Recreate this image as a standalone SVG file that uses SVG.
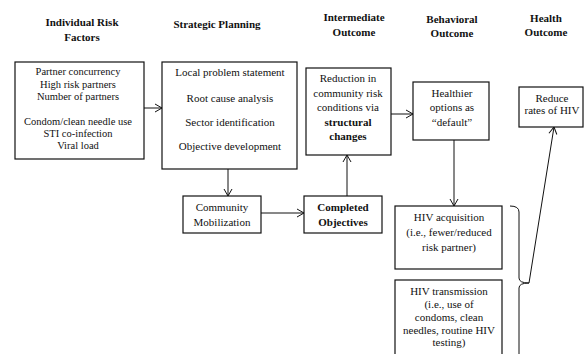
<svg xmlns="http://www.w3.org/2000/svg" width="585" height="354" viewBox="0 0 585 354">
<style>
text{font-family:"Liberation Serif","Times New Roman",serif;font-size:11px;fill:#111;text-anchor:middle}
.t{font-weight:bold}
.s{font-size:10.5px}
.b{font-weight:bold}
.box{fill:#fff;stroke:#111;stroke-width:1.2}
.c{fill:none;stroke:#111;stroke-width:1}
</style>
<defs>
<marker id="ah" markerWidth="10" markerHeight="10" refX="8" refY="5" orient="auto" markerUnits="userSpaceOnUse">
<path d="M1,1 L8,5 L1,9" fill="none" stroke="#111" stroke-width="1"/>
</marker>
</defs>
<g id="titles">
<text class="t" x="82" y="26">Individual Risk</text>
<text class="t" x="82" y="41">Factors</text>
<text class="t" x="217" y="28">Strategic Planning</text>
<text class="t" x="354" y="21">Intermediate</text>
<text class="t" x="354" y="36">Outcome</text>
<text class="t" x="452" y="23">Behavioral</text>
<text class="t" x="452" y="37">Outcome</text>
<text class="t" x="546" y="22">Health</text>
<text class="t" x="546" y="36">Outcome</text>
</g>
<g id="connectors">
<line class="c" x1="144" y1="108" x2="162" y2="108" marker-end="url(#ah)"/>
<line class="c" x1="228" y1="169" x2="228" y2="196" marker-end="url(#ah)"/>
<line class="c" x1="261" y1="213" x2="304" y2="213" marker-end="url(#ah)"/>
<line class="c" x1="347" y1="196" x2="347" y2="155" marker-end="url(#ah)"/>
<line class="c" x1="391" y1="114" x2="413" y2="114" marker-end="url(#ah)"/>
<line class="c" x1="454" y1="140" x2="454" y2="206" marker-end="url(#ah)"/>
<path class="c" d="M510,206 Q519,206 519,212 L519,278 Q519,283 529,283 Q519,283 519,288 L519,354"/>
<line class="c" x1="529" y1="283" x2="554" y2="127" marker-end="url(#ah)"/>
</g>
<g id="risk-factors">
<rect class="box" x="15" y="62" width="129" height="97"/>
<text class="s" x="78" y="75">Partner concurrency</text>
<text class="s" x="78" y="87.5">High risk partners</text>
<text class="s" x="78" y="100">Number of partners</text>
<text class="s" x="78" y="125">Condom/clean needle use</text>
<text class="s" x="78" y="137">STI co-infection</text>
<text class="s" x="78" y="149">Viral load</text>
</g>
<g id="strategic-planning">
<rect class="box" x="162" y="62" width="135" height="107"/>
<text x="230" y="76">Local problem statement</text>
<text x="230" y="101.5">Root cause analysis</text>
<text x="230" y="125.5">Sector identification</text>
<text x="230" y="149.5">Objective development</text>
</g>
<g id="community-mobilization">
<rect class="box" x="183" y="196" width="78" height="37"/>
<text x="222" y="211">Community</text>
<text x="222" y="226">Mobilization</text>
</g>
<g id="completed-objectives">
<rect class="box" x="304" y="196" width="78" height="37"/>
<text class="b" x="343" y="211">Completed</text>
<text class="b" x="343" y="226">Objectives</text>
</g>
<g id="reduction">
<rect class="box" x="306" y="68" width="85" height="87"/>
<text x="348" y="82">Reduction in</text>
<text x="348" y="96.5">community risk</text>
<text x="348" y="111">conditions via</text>
<text class="b" x="348" y="125.5">structural</text>
<text class="b" x="348" y="140">changes</text>
</g>
<g id="healthier">
<rect class="box" x="413" y="82" width="76" height="58"/>
<text x="452" y="97">Healthier</text>
<text x="452" y="111">options as</text>
<text x="452" y="125.5">“default”</text>
</g>
<g id="reduce-hiv">
<rect class="box" x="519" y="87" width="64" height="40"/>
<text x="552" y="101.5">Reduce</text>
<text x="552" y="114">rates of HIV</text>
</g>
<g id="hiv-acquisition">
<rect class="box" x="395" y="206" width="107" height="63"/>
<text x="449" y="220.5">HIV acquisition</text>
<text x="449" y="236">(i.e., fewer/reduced</text>
<text x="449" y="251">risk partner)</text>
</g>
<g id="hiv-transmission">
<rect class="box" x="395" y="280" width="107" height="80"/>
<text x="449" y="295">HIV transmission</text>
<text x="449" y="308">(i.e., use of</text>
<text x="449" y="321">condoms, clean</text>
<text x="449" y="333.5">needles, routine HIV</text>
<text x="449" y="346">testing)</text>
</g>
</svg>
